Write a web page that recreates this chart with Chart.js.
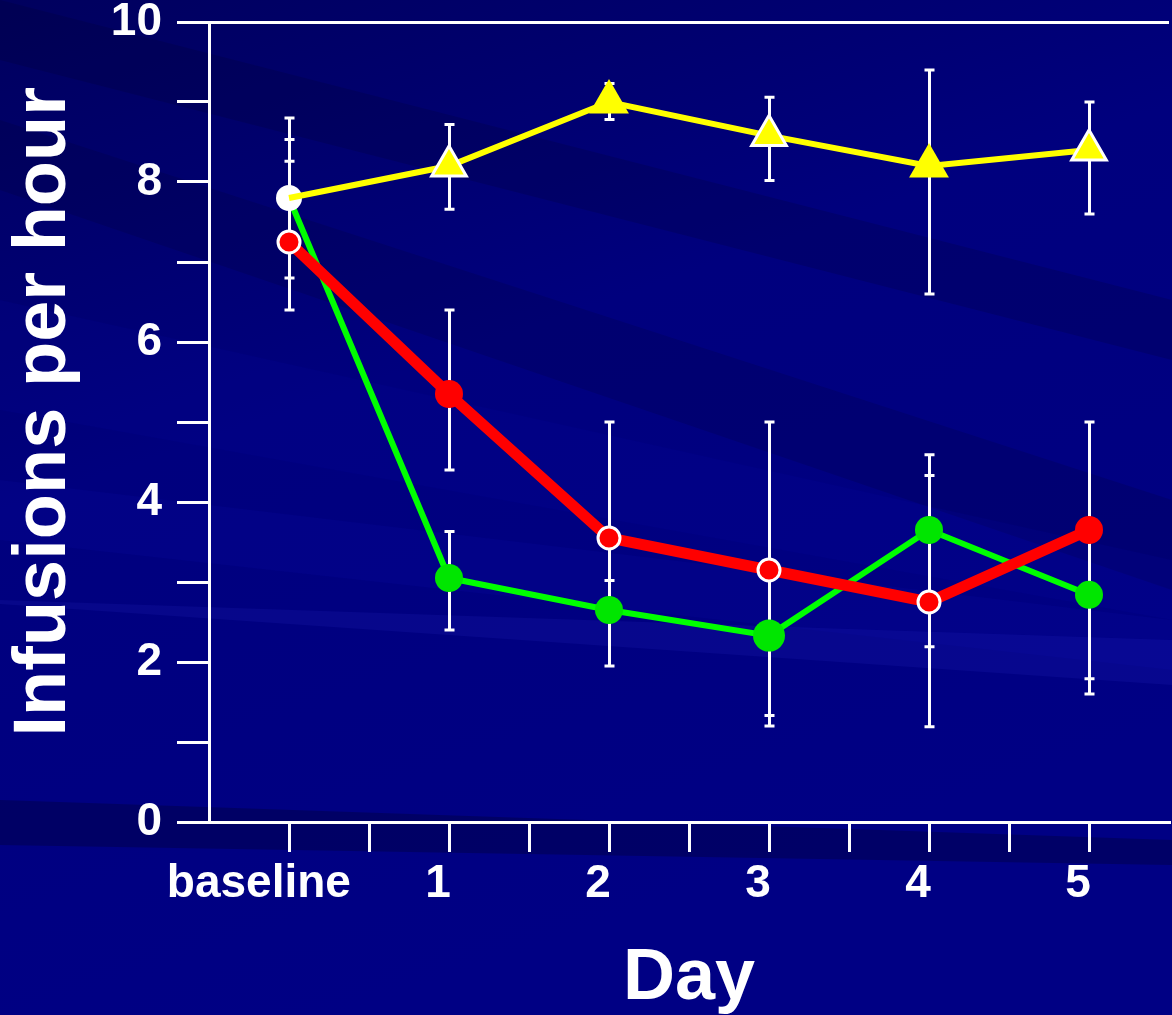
<!DOCTYPE html>
<html>
<head>
<meta charset="utf-8">
<title>Infusions per hour</title>
<script src="https://cdn.jsdelivr.net/npm/chart.js@4.4.1/dist/chart.umd.min.js"></script>
<style>
    html, body { margin: 0; padding: 0; background: #000080; }
    canvas { display: block; }
</style>
</head>
<body>
<canvas id="infusionChart" width="1172" height="1015"></canvas>
<script>
// Chart data
const categories = ['baseline', '1', '2', '3', '4', '5'];
const yTickLabels = ['0', '2', '4', '6', '8', '10'];

const yellowValues = [7.8, 8.2, 9.0, 8.58, 8.2, 8.4];
const yellowLow    = [6.8, 7.66, 8.78, 8.02, 6.6, 7.6];
const yellowHigh   = [8.8, 8.72, 9.23, 9.06, 9.4, 9.0];

const redValues = [7.25, 5.35, 3.55, 3.15, 2.75, 3.65];
const redLow    = [6.4, 4.4, 1.95, 1.33, 1.19, 1.6];
const redHigh   = [8.26, 6.4, 5.0, 5.0, 4.33, 5.0];

const greenValues = [7.8, 3.05, 2.65, 2.33, 3.65, 2.84];
const greenLow    = [7.3, 2.4, 2.55, 1.2, 2.19, 1.79];
const greenHigh   = [8.53, 3.63, 3.02, 2.45, 4.59, 2.95];

const FONT = "'Liberation Sans', Arial, Helvetica, sans-serif";

function toPoints(values) {
    return values.map((v, i) => ({ x: i, y: v }));
}

// Background with diagonal streaks
const backgroundPlugin = {
    id: 'slideBackground',
    beforeDraw(chart) {
        const { ctx, width, height } = chart;
        ctx.save();
        const g = ctx.createLinearGradient(0, 0, width * 0.3, height);
        g.addColorStop(0, '#00005e');
        g.addColorStop(0.45, '#00007e');
        g.addColorStop(1, '#000084');
        ctx.fillStyle = g;
        ctx.fillRect(0, 0, width, height);

        const bands = [
            { y0: 0, y1: 300, h0: 60, h1: 60, color: 'rgba(0,0,40,0.18)' },
            { y0: 120, y1: 500, h0: 70, h1: 90, color: 'rgba(0,0,30,0.14)' },
            { y0: 300, y1: 560, h0: 110, h1: 60, color: 'rgba(10,10,170,0.12)' },
            { y0: 480, y1: 620, h0: 60, h1: 50, color: 'rgba(20,20,200,0.10)' },
            { y0: 600, y1: 640, h0: 4, h1: 45, color: 'rgba(60,60,220,0.12)' },
            { y0: 800, y1: 840, h0: 45, h1: 25, color: 'rgba(0,0,30,0.28)' }
        ];
        bands.forEach(b => {
            ctx.fillStyle = b.color;
            ctx.beginPath();
            ctx.moveTo(0, b.y0);
            ctx.lineTo(width, b.y1);
            ctx.lineTo(width, b.y1 + b.h1);
            ctx.lineTo(0, b.y0 + b.h0);
            ctx.closePath();
            ctx.fill();
        });
        ctx.restore();
    }
};

// Error bars drawn under the lines
const errorSets = [
    { low: yellowLow, high: yellowHigh },
    { low: redLow, high: redHigh },
    { low: greenLow, high: greenHigh }
];

const errorBarPlugin = {
    id: 'errorBars',
    beforeDatasetsDraw(chart) {
        const { ctx, scales: { x, y } } = chart;
        ctx.save();
        ctx.strokeStyle = '#ffffff';
        ctx.lineWidth = 3;
        errorSets.forEach(set => {
            set.low.forEach((lo, i) => {
                const px = Math.round(x.getPixelForValue(i)) + 0.5;
                const top = y.getPixelForValue(set.high[i]);
                const bottom = y.getPixelForValue(lo);
                ctx.beginPath();
                ctx.moveTo(px, top);
                ctx.lineTo(px, bottom);
                ctx.moveTo(px - 5, top);
                ctx.lineTo(px + 5, top);
                ctx.moveTo(px - 5, bottom);
                ctx.lineTo(px + 5, bottom);
                ctx.stroke();
            });
        });
        ctx.restore();
    }
};

new Chart(document.getElementById('infusionChart'), {
    type: 'line',
    data: {
        datasets: [
            {
                label: 'Yellow',
                data: toPoints(yellowValues),
                borderColor: '#ffff00',
                borderWidth: 6,
                backgroundColor: '#ffff00',
                pointStyle: 'triangle',
                pointBackgroundColor: '#ffff00',
                pointBorderColor: ['#ffff00', '#ffffff', '#ffff00', '#ffffff', '#ffff00', '#ffffff'],
                pointBorderWidth: [0, 3, 0, 3, 0, 3],
                pointRadius: [0, 20, 23, 20, 23, 20],
                tension: 0
            },
            {
                label: 'Red',
                data: toPoints(redValues),
                borderColor: '#ff0000',
                borderWidth: 11,
                backgroundColor: '#ff0000',
                pointBackgroundColor: '#ff0000',
                pointBorderColor: ['#ffffff', '#ff0000', '#ffffff', '#ffffff', '#ffffff', '#ff0000'],
                pointBorderWidth: [3, 0, 3, 3, 3, 0],
                pointRadius: [11, 14, 11, 11, 11, 14],
                tension: 0
            },
            {
                label: 'Green',
                data: toPoints(greenValues),
                borderColor: '#00ff00',
                borderWidth: 6,
                backgroundColor: '#00e600',
                pointBackgroundColor: ['#ffffff', '#00e600', '#00e600', '#00e600', '#00e600', '#00e600'],
                pointBorderWidth: 0,
                pointRadius: [13, 14, 14, 16, 14, 14],
                tension: 0
            }
        ]
    },
    options: {
        responsive: false,
        animation: false,
        layout: { autoPadding: false, padding: { top: 22, right: 3, left: 0, bottom: 0 } },
        plugins: {
            legend: { display: false },
            tooltip: { enabled: false }
        },
        scales: {
            x: {
                type: 'linear',
                min: -0.5,
                max: 5.5,
                afterFit(scale) { scale.height = 193; },
                ticks: {
                    stepSize: 0.5,
                    autoSkip: false,
                    maxRotation: 0,
                    minRotation: 0,
                    padding: 3,
                    labelOffset: -11,
                    color: '#ffffff',
                    font: { family: FONT, size: 46, weight: 'bold', lineHeight: 1.28 },
                    callback: v => Number.isInteger(v) ? categories[v] + (v === 0 ? '   ' : '') : ''
                },
                grid: {
                    drawOnChartArea: false,
                    color: ctx => (ctx.tick && (ctx.tick.value === -0.5 || ctx.tick.value === 5.5)) ? 'rgba(0,0,0,0)' : '#ffffff',
                    lineWidth: 3,
                    tickWidth: 3,
                    tickLength: 30
                },
                border: { color: '#ffffff', width: 3 },
                title: {
                    display: true,
                    text: 'Day',
                    color: '#ffffff',
                    padding: 0,
                    font: { family: FONT, size: 72, weight: 'bold', lineHeight: 1.0 }
                }
            },
            y: {
                min: 0,
                max: 10,
                afterFit(scale) { scale.width = 209; },
                ticks: {
                    stepSize: 1,
                    autoSkip: false,
                    padding: 15,
                    color: '#ffffff',
                    font: { family: FONT, size: 46, weight: 'bold', lineHeight: 0.3 },
                    callback: v => yTickLabels.includes(String(v)) ? String(v) : ''
                },
                grid: {
                    drawOnChartArea: true,
                    color: ctx => (ctx.tick && ctx.tick.value === 10) ? '#ffffff' : 'rgba(0,0,0,0)',
                    tickColor: '#ffffff',
                    lineWidth: 3,
                    tickWidth: 3,
                    tickLength: 32
                },
                border: { color: '#ffffff', width: 3 },
                title: {
                    display: true,
                    text: ' Infusions per hour',
                    color: '#ffffff',
                    padding: 0,
                    font: { family: FONT, size: 74, weight: 'bold' }
                }
            }
        }
    },
    plugins: [backgroundPlugin, errorBarPlugin]
});
</script>
</body>
</html>
